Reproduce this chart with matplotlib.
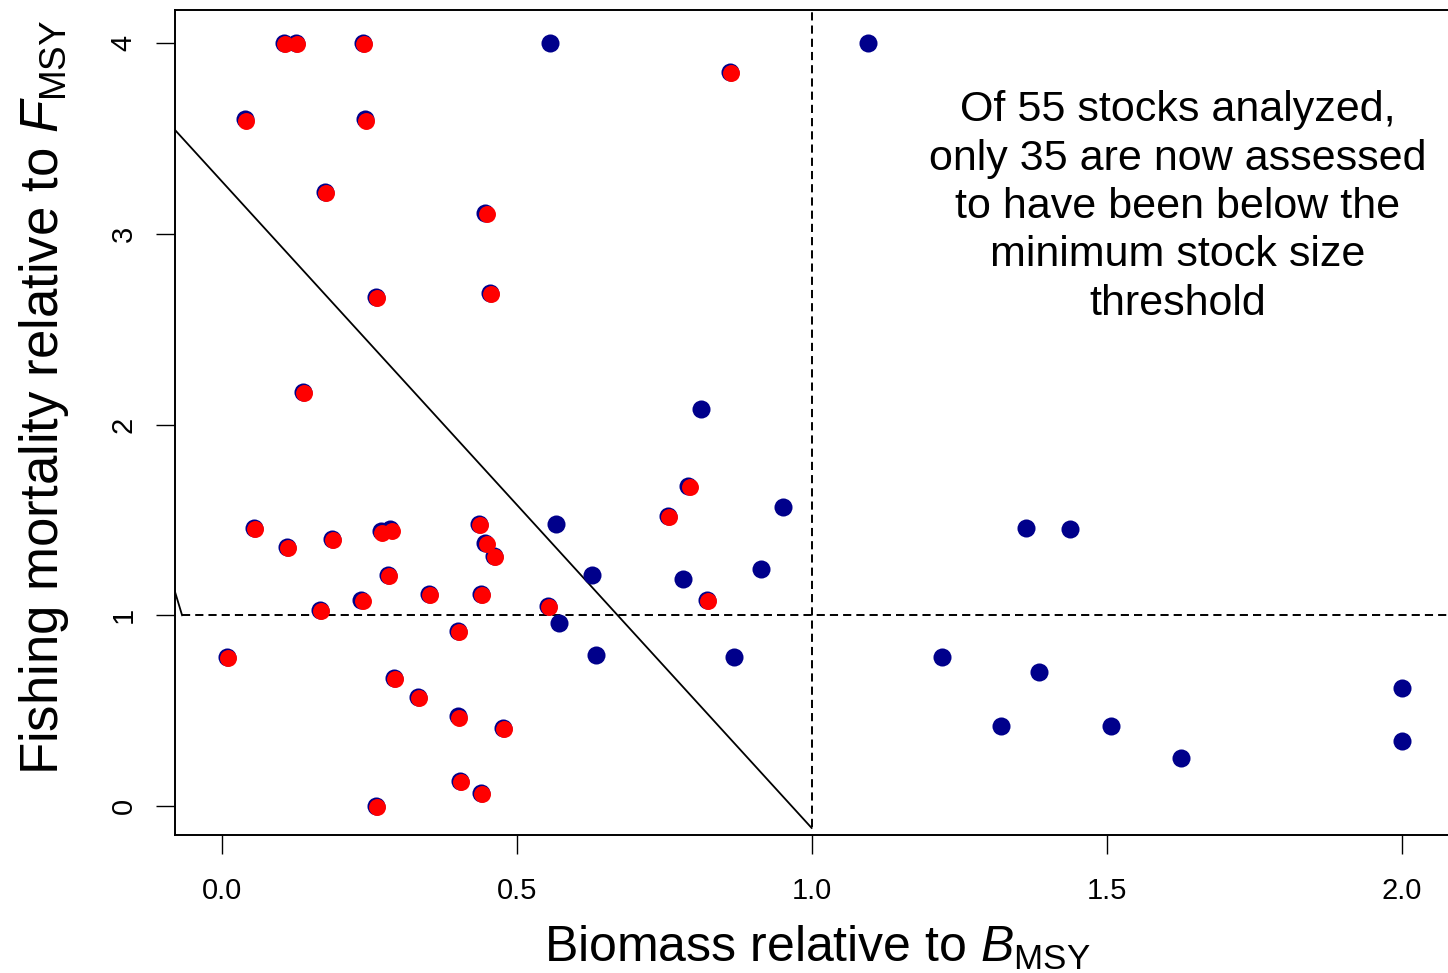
import matplotlib
matplotlib.use("Agg")
import matplotlib.pyplot as plt
import matplotlib.transforms as mtransforms

plt.rcParams['font.family'] = ['Liberation Sans', 'DejaVu Sans']
plt.rcParams['mathtext.fontset'] = 'custom'
plt.rcParams['mathtext.rm'] = 'Liberation Sans'
plt.rcParams['mathtext.it'] = 'Liberation Sans:italic'

# stocks assessed below the minimum stock size threshold
below_b = [0.106, 0.126, 0.240, 0.862, 0.040, 0.243, 0.175, 0.447, 0.262, 0.455,
           0.138, 0.055, 0.111, 0.187, 0.270, 0.286, 0.436, 0.447, 0.462, 0.757,
           0.791, 0.282, 0.167, 0.237, 0.352, 0.440, 0.553, 0.823, 0.401, 0.009,
           0.292, 0.333, 0.401, 0.477, 0.404, 0.440, 0.262]
below_f = [4.00, 4.00, 4.00, 3.85, 3.60, 3.60, 3.22, 3.11, 2.67, 2.69,
           2.17, 1.46, 1.36, 1.40, 1.44, 1.45, 1.48, 1.38, 1.31, 1.52,
           1.68, 1.21, 1.03, 1.08, 1.11, 1.11, 1.05, 1.08, 0.92, 0.78,
           0.67, 0.57, 0.47, 0.41, 0.13, 0.07, 0.00]

# remaining stocks
other_b = [0.557, 1.096, 0.813, 0.952, 0.567, 0.628, 0.782, 0.914, 0.572, 0.635,
           0.869, 1.364, 1.438, 1.221, 1.386, 1.321, 1.507, 1.626, 2.000, 2.000]
other_f = [4.00, 4.00, 2.08, 1.57, 1.48, 1.21, 1.19, 1.24, 0.96, 0.79,
           0.78, 1.46, 1.45, 0.78, 0.70, 0.42, 0.42, 0.25, 0.62, 0.34]

# MSST line and reference lines
msst_b = [-0.079, 1.0]
msst_f = [3.544, -0.115]
stub_b = [-0.0797, -0.067]
stub_f = [1.13, 1.0]

fig = plt.figure(figsize=(14.48, 9.73), dpi=100)
# right spine sits past the edge of the canvas
ax = fig.add_axes([175 / 1448, 138 / 973, 1280 / 1448, 825 / 973])
ax.set_xlim(-0.079, -0.079 + 1280 / 590)
ax.set_ylim(-0.152, 4.173)

navy = '#00008B'
red = '#FF0000'
shift = mtransforms.offset_copy(ax.transData, fig=fig, x=1.2, y=-1.2, units='dots')

ax.plot(other_b, other_f, 'o', color=navy, ms=13, mew=0, zorder=3)
ax.plot(below_b, below_f, 'o', color=navy, ms=13, mew=0, zorder=3)
ax.plot(below_b, below_f, 'o', color=red, ms=12.2, mew=0, zorder=4, transform=shift)

ax.plot(msst_b, msst_f, color='black', lw=1.3, zorder=2)
ax.plot(stub_b, stub_f, color='black', lw=1.3, zorder=2)
ax.plot([-0.067, 2.3], [1, 1], color='black', lw=1.4, dashes=(4.2, 2.6), zorder=2)
ax.plot([1.0, 1.0], [-0.11, 4.3], color='black', lw=1.4, dashes=(4.2, 2.6), zorder=2)

ax.text(1.621, 3.14,
        'Of 55 stocks analyzed,\nonly 35 are now assessed\nto have been below the\n'
        'minimum stock size\nthreshold',
        ha='center', va='center', fontsize=31, linespacing=1.27)

for side in ['left', 'bottom', 'top', 'right']:
    ax.spines[side].set_linewidth(1.4)

ax.set_xticks([0.0, 0.5, 1.0, 1.5, 2.0])
ax.set_xticklabels(['0.0', '0.5', '1.0', '1.5', '2.0'])
ax.set_yticks([0, 1, 2, 3, 4])
ax.set_yticklabels(['0', '1', '2', '3', '4'], rotation=90, va='center')
ax.tick_params(axis='both', direction='out', length=14, width=1.0, labelsize=21, pad=16)
ax.tick_params(axis='y', pad=13)

ax.text(0.502, -0.154, r'Biomass relative to $\mathit{B}_{\mathrm{MSY}}$',
        transform=ax.transAxes, ha='center', va='baseline', fontsize=36)
ax.text(-0.0914, 0.531, r'Fishing mortality relative to $\mathit{F}_{\mathrm{MSY}}$',
        transform=ax.transAxes, ha='center', va='baseline', rotation=90,
        rotation_mode='anchor', fontsize=38)

fig.savefig('out.png', dpi=100)
